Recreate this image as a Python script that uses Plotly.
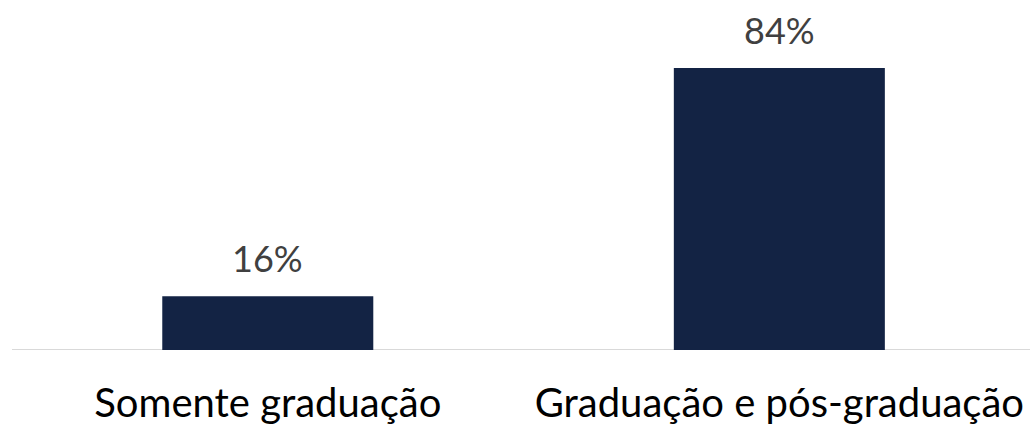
import plotly.graph_objects as go

categories = ["Somente graduação", "Graduação e pós-graduação"]
values = [16, 84]
labels = ["16%", "84%"]

bar_color = "#132344"
font_family = "Lato, 'Open Sans', sans-serif"

fig = go.Figure()
fig.add_trace(go.Bar(x=categories, y=values, marker=dict(color=bar_color, line=dict(width=0)),
                     hoverinfo="skip"))

for c, v, t in zip(categories, values, labels):
    fig.add_annotation(x=c, y=v, text=t, showarrow=False, yanchor="bottom", yshift=14,
                       font=dict(family=font_family, size=36, color="#404040"))

fig.update_layout(
    width=1030, height=427,
    margin=dict(l=12, r=0, t=0, b=77),
    paper_bgcolor="white", plot_bgcolor="white",
    bargap=0.5875,
    showlegend=False,
    xaxis=dict(type="category", range=[-0.5, 1.49], showgrid=False, zeroline=False,
               showline=False, ticks="", ticklabelstandoff=26, automargin=False,
               tickfont=dict(family=font_family, size=40, color="#000000")),
    yaxis=dict(range=[0, 104.3], visible=False, showgrid=False, zeroline=False,
               automargin=False),
)
fig.add_shape(type="line", xref="paper", yref="y", x0=0, x1=1, y0=0, y1=0,
              line=dict(color="#d9d9d9", width=2), layer="below")

fig.write_html("out.html", config={"displayModeBar": False},
               post_script="document.body.style.margin='0';")
